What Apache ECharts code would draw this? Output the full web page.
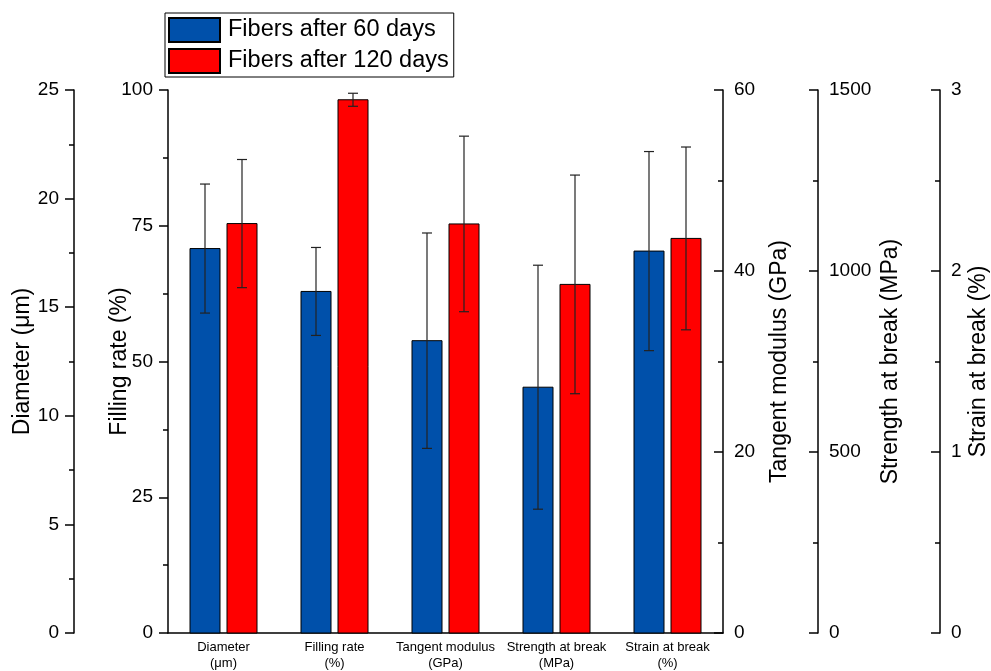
<!DOCTYPE html>
<html>
<head>
<meta charset="utf-8">
<script src="https://cdn.jsdelivr.net/npm/echarts@6/dist/echarts.min.js"></script>
<style>html,body{margin:0;padding:0;background:#fff}#c{width:991px;height:671px}</style>
</head>
<body>
<div id="c"></div>
<script>
// ---- data ----
const categories = ['Diameter\n(μm)', 'Filling rate\n(%)', 'Tangent modulus\n(GPa)', 'Strength at break\n(MPa)', 'Strain at break\n(%)'];
const seriesNames = ['Fibers after 60 days', 'Fibers after 120 days'];
const mean60 = [17.7, 62.9, 32.3, 679, 2.11];
const err60 = [2.97, 8.1, 11.9, 337, 0.55];
const mean120 = [18.85, 98.2, 45.2, 963, 2.18];
const err120 = [2.95, 1.2, 9.7, 302, 0.505];
const axisNames = ['Diameter (μm)', 'Filling rate (%)', 'Tangent modulus (GPa)', 'Strength at break (MPa)', 'Strain at break (%)'];
const axisMax = [25, 100, 60, 1500, 3];
const axisInterval = [5, 25, 20, 500, 1];

const FONT = '"Liberation Sans", Arial, sans-serif';
const colors = ['#0050AA', '#FF0000'];

const axisCfg = [
  {position: 'left', offset: 94, nameGap: 40, inside: false, margin: 15},
  {position: 'left', offset: 0, nameGap: 37, inside: false, margin: 15},
  {position: 'right', offset: 0, nameGap: 45, inside: true, margin: 11},
  {position: 'right', offset: 95, nameGap: 61, inside: true, margin: 11},
  {position: 'right', offset: 217, nameGap: 27, inside: true, margin: 11}
];

const yAxes = axisNames.map((n, i) => ({
  type: 'value',
  position: axisCfg[i].position,
  offset: axisCfg[i].offset,
  min: 0, max: axisMax[i], interval: axisInterval[i],
  name: n, nameLocation: 'middle', nameGap: axisCfg[i].nameGap, nameRotate: 90,
  nameMoveOverlap: false,
  nameTextStyle: {fontSize: 23, color: '#000', fontFamily: FONT},
  axisLine: {show: true, lineStyle: {color: '#000', width: 1.5}},
  axisTick: {show: true, inside: axisCfg[i].inside, length: 9, lineStyle: {color: '#000', width: 1.5}},
  minorTick: {show: true, splitNumber: 2, length: 5, lineStyle: {color: '#000', width: 1.5}},
  axisLabel: {fontSize: 19, color: '#000', fontFamily: FONT, margin: axisCfg[i].margin, formatter: v => String(v)},
  splitLine: {show: false}
}));

const BW = 30, OFF = 18.5, CAP = 5;
function renderItem(params, api) {
  const cat = api.value(0);
  const base = api.coord([cat, 0]);
  const children = [];
  for (let g = 0; g < 2; g++) {
    const v = api.value(1 + 2 * g), e = api.value(2 + 2 * g);
    const cx = base[0] + (g === 0 ? -OFF : OFF);
    const top = api.coord([cat, v]);
    children.push({type: 'rect', shape: {x: cx - BW / 2, y: top[1], width: BW, height: base[1] - top[1]},
      style: {fill: colors[g], stroke: '#000', lineWidth: 1}});
    const hi = api.coord([cat, v + e])[1], lo = api.coord([cat, v - e])[1];
    const st = {stroke: '#222', lineWidth: 1.2};
    children.push({type: 'line', shape: {x1: cx, y1: hi, x2: cx, y2: lo}, style: st});
    children.push({type: 'line', shape: {x1: cx - CAP, y1: hi, x2: cx + CAP, y2: hi}, style: st});
    children.push({type: 'line', shape: {x1: cx - CAP, y1: lo, x2: cx + CAP, y2: lo}, style: st});
  }
  return {type: 'group', children};
}

const series = [
  {name: seriesNames[0], type: 'bar', data: [], itemStyle: {color: colors[0], borderColor: '#000', borderWidth: 1}},
  {name: seriesNames[1], type: 'bar', data: [], itemStyle: {color: colors[1], borderColor: '#000', borderWidth: 1}}
];
for (let k = 0; k < categories.length; k++) {
  series.push({
    type: 'custom', yAxisIndex: k, renderItem,
    encode: {x: 0, y: 1},
    data: [[k, mean60[k], err60[k], mean120[k], err120[k]]],
    silent: true
  });
}

const chart = echarts.init(document.getElementById('c'), null, {renderer: 'canvas'});
chart.setOption({
  animation: false,
  backgroundColor: '#fff',
  grid: {left: 168, right: 268, top: 90, bottom: 38, containLabel: false, outerBoundsMode: 'none'},
  legend: {
    data: seriesNames, orient: 'vertical', left: 165, top: 13,
    padding: [4, 5, 3, 3], itemGap: 5, itemWidth: 51, itemHeight: 24,
    backgroundColor: '#fff', borderColor: '#000', borderWidth: 1,
    icon: 'rect', selectedMode: false,
    textStyle: {fontSize: 23.5, color: '#000', fontFamily: FONT, lineHeight: 24, padding: [0, 0, 0, 3]}
  },
  xAxis: {
    type: 'category', data: categories,
    axisLine: {show: true, lineStyle: {color: '#000', width: 1.5}},
    axisTick: {show: false},
    axisLabel: {interval: 0, fontSize: 13, lineHeight: 16, color: '#000', fontFamily: FONT, margin: 6}
  },
  yAxis: yAxes,
  series
});
</script>
</body>
</html>
